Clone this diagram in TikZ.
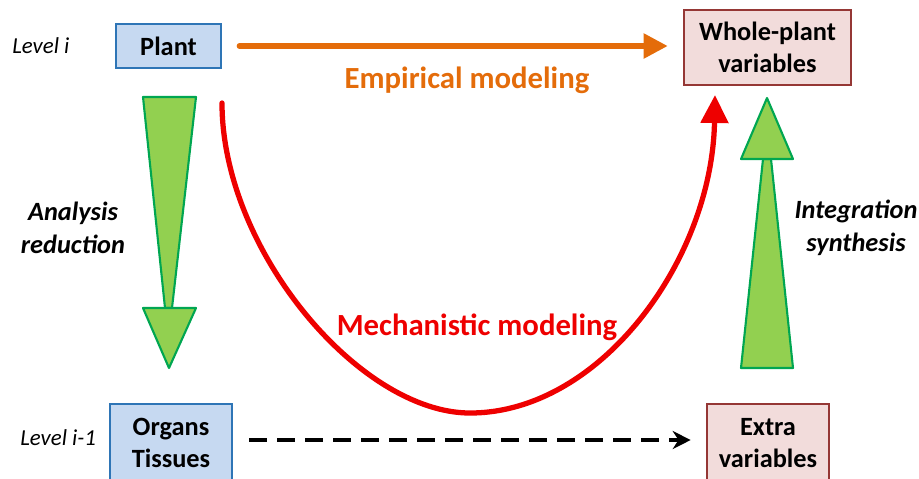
\documentclass[tikz,border=0pt]{standalone}
\usepackage{fontspec}
\setmainfont{Carlito}
\usetikzlibrary{arrows.meta,positioning}
\definecolor{fillblue}{HTML}{C6D9F1}
\definecolor{boxblue}{HTML}{2E75B6}
\definecolor{fillred}{HTML}{F2DCDB}
\definecolor{boxred}{HTML}{953735}
\definecolor{fillgreen}{HTML}{92D050}
\definecolor{arrowgreen}{HTML}{00A651}
\definecolor{empirical}{HTML}{E46C0A}
\definecolor{mechanistic}{HTML}{EE0000}

\begin{document}
\begin{tikzpicture}[x=0.02cm,y=-0.02cm,line cap=round]
      \useasboundingbox (0,0) rectangle (919,478);

      \tikzstyle{levelbox}=[draw=boxblue, fill=fillblue, line width=1.5pt, align=center, inner sep=0pt, font=\fontsize{15}{18}\selectfont\bfseries];
      \tikzstyle{varbox}=[levelbox, draw=boxred, fill=fillred];
      \tikzstyle{leveltext}=[anchor=west, inner sep=0pt, font=\fontsize{13}{15}\selectfont\itshape];
      \tikzstyle{sidetext}=[align=center, font=\fontsize{15}{19}\selectfont\bfseries\itshape];
      \tikzstyle{greenarrow}=[draw=arrowgreen, fill=fillgreen, line width=1.2pt, line join=round];

      % boxes
      \node[levelbox, minimum width=2.1cm, minimum height=0.88cm] (plant) at (168.5,46) {Plant};
      \node[levelbox, minimum width=2.44cm, minimum height=1.56cm] (organs) at (171,443) {Organs\\Tissues};
      \node[varbox, minimum width=3.34cm, minimum height=1.5cm] (whole) at (767.5,47.5) {Whole-plant\\variables};
      \node[varbox, minimum width=2.44cm, minimum height=1.56cm] (extra) at (768,443) {Extra\\variables};

      \node[leveltext] (leveli) at (12,46) {Level i};
      \node[leveltext] (levelj) at (20,438) {Level i-1};

      % green arrows
      \draw[greenarrow] (143,97) -- (196,97) -- (172,308) -- (165,308) -- cycle;
      \draw[greenarrow] (143,308) -- (196,308) -- (169,368) -- cycle;
      \draw[greenarrow] (763,159) -- (771,159) -- (793,368) -- (741,368) -- cycle;
      \draw[greenarrow] (741,159) -- (793,159) -- (767,98) -- cycle;

      \node[sidetext] (analysis) at (73,228) {Analysis\\reduction};
      \node[sidetext] (integration) at (856,228) {Integration\\synthesis};

      % empirical
      \draw[line width=3pt, empirical, -{Triangle[length=0.48cm,width=0.48cm]}, shorten <=0.34cm, shorten >=0.3cm] (plant.east) -- (whole.west |- plant.east);
      \node[empirical, font=\fontsize{17.5}{20}\selectfont\bfseries] (emp) at (467,80) {Empirical modeling};

      % mechanistic
      \coordinate (mstart) at (222,103);
      \coordinate (mbottom) at (470,413);
      \coordinate (mend) at (715,95);
      \draw[line width=3pt, mechanistic, -{Triangle[length=0.56cm,width=0.54cm]}] (mstart) .. controls (222,250) and (360,413) .. (mbottom) .. controls (600,413) and (712,260) .. (mend);
      \node[mechanistic, font=\fontsize{17.5}{20}\selectfont\bfseries] (mech) at (477,327) {Mechanistic modeling};

      % lower level
      \draw[line width=2pt, line cap=butt, dash pattern=on 0.36cm off 0.2cm, -{Stealth[length=0.36cm,width=0.36cm]}, shorten <=0.32cm, shorten >=0.3cm] (organs.east |- 0,440) -- (extra.west |- 0,440);
    \end{tikzpicture}
\end{document}
